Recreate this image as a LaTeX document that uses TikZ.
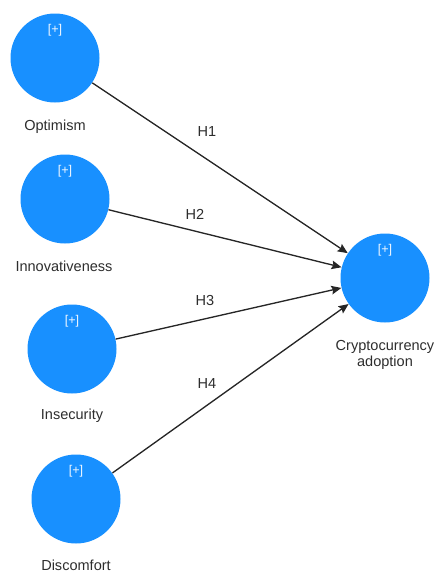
\documentclass[tikz,border=0pt]{standalone}
\usepackage{fontspec}
\setmainfont{Liberation Sans}
\usetikzlibrary{positioning,arrows.meta}

\definecolor{latentblue}{RGB}{24,144,255}
\definecolor{txtgray}{RGB}{45,45,45}

\tikzset{
  latent/.style={circle, fill=latentblue, minimum size=66.75pt, inner sep=0pt,
    label={[plusmark]90:{[+]}}},
  plusmark/.style={anchor=center, yshift=-12.4pt, inner sep=0pt,
    text=white!92!latentblue, font=\fontsize{9.5}{11}\selectfont},
  varname/.style={text=txtgray, align=center, font=\fontsize{10.9}{12}\selectfont},
  hyp/.style={text=txtgray, font=\fontsize{10.9}{12}\selectfont},
  effect/.style={line width=1pt, black!85, -{Stealth[length=7.5pt,width=6.5pt,inset=1.2pt]}}
}

\begin{document}
\begin{tikzpicture}[x=0.75pt,y=-0.75pt]
	\useasboundingbox (0,0) rectangle (437,572);
	
	% constructs
	\node[latent] (opt) at (55,58) {};
	\node[latent] (inn) at (65,199) {};
	\node[latent] (ins) at (72,349) {};
	\node[latent] (dis) at (76,499) {};
	\node[latent] (adopt) at (385,278) {};
	
	% construct names
	\node[varname] (optname) at (55,127) {Optimism};
	\node[varname] (innname) at (64,266) {Innovativeness};
	\node[varname] (insname) at (72,416) {Insecurity};
	\node[varname] (disname) at (76,565) {Discomfort};
	\node[varname] (adoptname) at (385,355) {Cryptocurrency\\adoption};
	
	% hypotheses
	\draw[effect] (opt) -- (adopt);
	\draw[effect] (inn) -- (adopt);
	\draw[effect] (ins) -- (adopt);
	\draw[effect] (dis) -- (adopt);
	
	\node[hyp] (h1) at (207,131) {H1};
	\node[hyp] (h2) at (195,214) {H2};
	\node[hyp] (h3) at (205,300) {H3};
	\node[hyp] (h4) at (207,383) {H4};
\end{tikzpicture}
\end{document}
